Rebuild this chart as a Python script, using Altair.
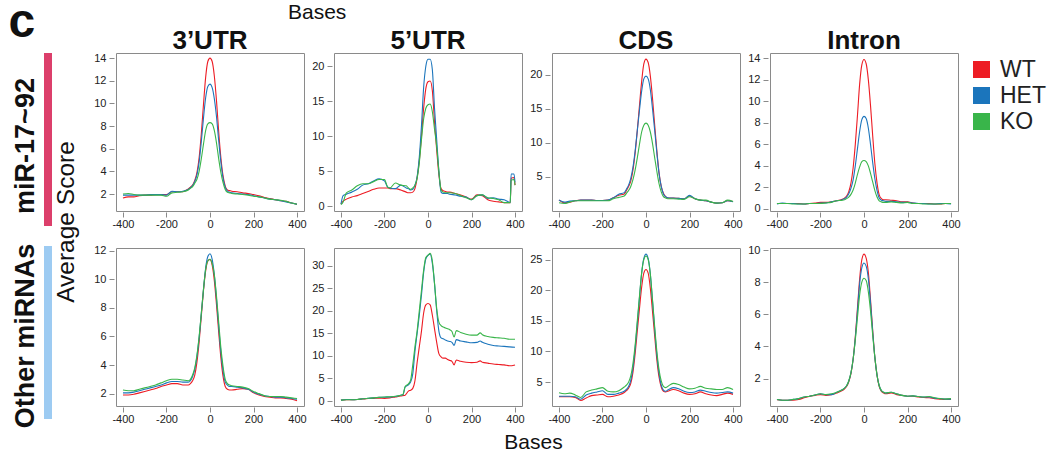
import altair as alt
import pandas as pd

FONT = "Liberation Sans"

SERIES = ["WT", "HET", "KO"]
COLORS = ["#ED1C24", "#1B75BC", "#39B54A"]
REGIONS = ["3\u2019UTR", "5\u2019UTR", "CDS", "Intron"]
GROUPS = ["miR-17~92", "Other miRNAs"]
X_TICKS = [-400, -200, 0, 200, 400]

POS = [-400, -375, -350, -325, -300, -275, -250, -225, -200, -175, -150, -125,
       -100, -90, -80, -70, -60, -50, -40, -30, -20, -10, 0, 10, 20, 30, 40, 50,
       60, 70, 80, 90, 100, 125, 150, 175, 200, 225, 250, 275, 300, 325, 350, 375, 400]
POS_5UTR_MIR = [-400, -390, -375, -350, -325, -300, -275, -250, -225, -200, -185, -175,
                -150, -125, -100, -90, -80, -70, -60, -50, -40, -30, -20, -10, 0, 10,
                20, 30, 40, 50, 60, 70, 80, 90, 100, 125, 150, 175, 200, 225, 250, 275,
                300, 325, 350, 370, 378, 382, 395, 400]
POS_5UTR_OTHER = [-400, -375, -350, -325, -300, -275, -250, -225, -200, -175, -150, -125,
                  -115, -105, -90, -80, -70, -60, -50, -40, -30, -20, -10, 0, 10, 20, 30,
                  40, 50, 60, 70, 80, 90, 100, 110, 120, 130, 150, 175, 200, 225, 240, 250,
                  275, 300, 325, 350, 375, 400]

# ---- miR-17~92 row ----
UTR3_MIR_WT = [1.65, 1.75, 1.75, 1.85, 1.9, 1.9, 1.95, 1.95, 1.95, 2.2, 2.2, 2.2, 2.45, 2.6, 2.8, 3.2, 3.9, 5.2, 7.3, 9.9, 12.3, 13.7, 14.0, 13.7, 12.4, 10.2, 7.5, 5.2, 3.6, 2.7, 2.35, 2.3, 2.25, 2.2, 2.1, 2.05, 1.95, 1.85, 1.7, 1.6, 1.5, 1.4, 1.35, 1.2, 1.1]
UTR3_MIR_HET = [1.9, 1.9, 1.9, 1.9, 1.9, 1.95, 1.95, 1.95, 1.9, 2.25, 2.2, 2.25, 2.4, 2.55, 2.75, 3.1, 3.7, 4.8, 6.6, 8.7, 10.5, 11.5, 11.7, 11.4, 10.4, 8.8, 6.7, 4.8, 3.4, 2.6, 2.25, 2.15, 2.1, 2.05, 2.0, 1.95, 1.85, 1.75, 1.65, 1.55, 1.5, 1.4, 1.3, 1.2, 1.1]
UTR3_MIR_KO = [2.0, 2.05, 1.95, 1.9, 1.9, 1.9, 1.9, 1.9, 1.8, 2.1, 2.15, 2.2, 2.35, 2.5, 2.65, 2.95, 3.3, 4.0, 5.1, 6.4, 7.6, 8.2, 8.3, 8.2, 7.6, 6.5, 5.1, 3.9, 3.0, 2.4, 2.15, 2.1, 2.05, 2.0, 1.95, 1.9, 1.8, 1.75, 1.65, 1.55, 1.5, 1.45, 1.35, 1.2, 1.1]

UTR5_MIR_WT = [0.3, 0.7, 1.0, 1.3, 1.5, 1.8, 2.1, 2.4, 2.6, 2.6, 2.6, 2.5, 2.5, 2.3, 2.0, 1.9, 1.9, 2.0, 2.5, 4.0, 6.5, 10.0, 14.0, 16.8, 17.8, 17.9, 16.5, 12.0, 8.0, 4.5, 2.5, 2.2, 2.1, 2.0, 2.0, 1.8, 1.6, 1.3, 1.0, 1.6, 1.5, 0.9, 0.7, 0.6, 0.5, 0.5, 0.5, 4.0, 4.1, 3.0]
UTR5_MIR_HET = [0.3, 1.5, 1.7, 2.0, 2.4, 3.0, 3.2, 3.6, 3.9, 3.6, 2.7, 2.6, 2.5, 3.0, 2.6, 2.5, 2.3, 2.4, 3.0, 4.2, 7.0, 11.5, 17.0, 20.0, 21.0, 21.0, 19.5, 14.0, 9.5, 5.0, 2.0, 1.8, 1.8, 1.8, 1.7, 1.6, 1.4, 1.3, 0.9, 1.5, 1.6, 1.1, 1.2, 1.0, 0.9, 0.6, 0.5, 4.6, 4.6, 3.4]
UTR5_MIR_KO = [0.2, 0.6, 1.9, 2.3, 2.9, 3.2, 3.2, 3.5, 3.8, 3.8, 2.7, 2.6, 3.3, 3.0, 2.9, 2.6, 2.4, 2.6, 3.0, 4.0, 6.2, 9.5, 12.5, 14.0, 14.5, 14.6, 13.5, 11.0, 8.5, 5.0, 2.3, 2.0, 1.9, 1.9, 1.9, 1.8, 1.5, 1.2, 0.9, 1.5, 1.6, 1.2, 1.1, 0.9, 0.5, 0.5, 0.5, 3.7, 3.8, 3.0]

CDS_MIR_WT = [1.6, 1.2, 1.3, 1.5, 1.6, 1.6, 1.6, 1.55, 1.55, 1.6, 1.95, 2.3, 2.5, 3.0, 3.6, 4.4, 6.0, 8.5, 11.8, 15.5, 19.0, 21.6, 22.3, 21.8, 19.8, 16.5, 12.6, 8.8, 5.6, 3.6, 2.6, 2.1, 1.9, 1.9, 1.85, 1.8, 2.2, 1.8, 1.6, 1.5, 1.3, 1.15, 1.2, 1.5, 1.4]
CDS_MIR_HET = [1.6, 1.3, 1.45, 1.5, 1.6, 1.6, 1.6, 1.55, 1.55, 1.6, 1.95, 2.45, 2.7, 3.2, 3.8, 4.8, 6.4, 8.8, 11.8, 14.8, 17.6, 19.4, 19.8, 19.4, 17.8, 15.0, 11.8, 8.5, 5.5, 3.6, 2.5, 2.1, 1.95, 1.9, 1.85, 1.8, 2.3, 1.8, 1.6, 1.5, 1.3, 1.15, 1.2, 1.5, 1.35]
CDS_MIR_KO = [1.2, 1.1, 1.3, 1.5, 1.5, 1.5, 1.5, 1.5, 1.5, 1.5, 1.8, 2.0, 2.2, 2.6, 3.0, 3.6, 4.6, 6.0, 7.8, 9.8, 11.6, 12.6, 12.9, 12.6, 11.6, 9.9, 7.8, 5.8, 4.0, 2.8, 2.1, 1.9, 1.8, 1.8, 1.75, 1.7, 2.1, 1.8, 1.6, 1.6, 1.3, 1.15, 1.2, 1.6, 1.4]

INTRON_MIR_WT = [0.5, 0.5, 0.5, 0.5, 0.5, 0.45, 0.5, 0.55, 0.6, 0.6, 0.65, 0.75, 0.9, 1.0, 1.2, 1.6, 2.4, 3.8, 6.0, 8.7, 11.6, 13.4, 13.9, 13.5, 12.0, 9.6, 6.8, 4.2, 2.4, 1.3, 0.95, 0.85, 0.85, 0.8, 0.75, 0.65, 0.65, 0.55, 0.5, 0.5, 0.5, 0.45, 0.45, 0.5, 0.5]
INTRON_MIR_HET = [0.45, 0.55, 0.5, 0.5, 0.45, 0.45, 0.5, 0.5, 0.55, 0.55, 0.65, 0.75, 0.85, 0.95, 1.1, 1.4, 1.9, 2.7, 4.0, 5.6, 7.2, 8.3, 8.6, 8.4, 7.5, 6.0, 4.3, 2.8, 1.7, 1.0, 0.8, 0.75, 0.7, 0.7, 0.65, 0.6, 0.6, 0.55, 0.5, 0.5, 0.45, 0.45, 0.5, 0.5, 0.45]
INTRON_MIR_KO = [0.5, 0.5, 0.5, 0.45, 0.45, 0.45, 0.5, 0.5, 0.5, 0.55, 0.6, 0.75, 0.8, 0.85, 0.95, 1.1, 1.35, 1.75, 2.4, 3.2, 3.9, 4.4, 4.5, 4.4, 4.0, 3.3, 2.5, 1.7, 1.1, 0.75, 0.65, 0.6, 0.6, 0.65, 0.6, 0.55, 0.6, 0.5, 0.5, 0.45, 0.45, 0.45, 0.45, 0.5, 0.5]

# ---- Other miRNAs row ----
UTR3_OTHER_WT = [1.9, 1.9, 1.95, 2.05, 2.15, 2.25, 2.35, 2.5, 2.6, 2.7, 2.7, 2.6, 2.6, 2.7, 2.9, 3.3, 4.2, 5.6, 7.4, 9.2, 10.6, 11.3, 11.4, 11.0, 9.9, 8.2, 6.3, 4.5, 3.2, 2.5, 2.3, 2.25, 2.25, 2.3, 2.35, 2.3, 2.05, 1.9, 1.8, 1.75, 1.7, 1.7, 1.65, 1.6, 1.5]
UTR3_OTHER_HET = [2.05, 2.05, 2.1, 2.2, 2.3, 2.4, 2.5, 2.6, 2.75, 2.85, 2.85, 2.8, 2.8, 2.9, 3.2, 3.7, 4.6, 5.9, 7.6, 9.3, 10.8, 11.6, 11.8, 11.4, 10.3, 8.6, 6.7, 4.9, 3.6, 2.8, 2.6, 2.5, 2.5, 2.45, 2.4, 2.3, 2.1, 1.95, 1.85, 1.8, 1.75, 1.75, 1.7, 1.65, 1.6]
UTR3_OTHER_KO = [2.25, 2.2, 2.2, 2.3, 2.4, 2.5, 2.6, 2.75, 2.9, 3.0, 3.0, 2.95, 2.9, 3.0, 3.3, 3.8, 4.7, 6.0, 7.6, 9.3, 10.7, 11.3, 11.4, 11.1, 10.3, 8.8, 7.0, 5.2, 3.9, 3.0, 2.7, 2.6, 2.55, 2.5, 2.45, 2.35, 2.15, 2.0, 1.85, 1.8, 1.8, 1.8, 1.75, 1.7, 1.65]

UTR5_OTHER_WT = [0.2, 0.3, 0.3, 0.35, 0.45, 0.55, 0.6, 0.65, 0.6, 0.7, 0.9, 1.1, 1.2, 1.3, 2.2, 2.4, 2.8, 4.5, 8.5, 12.0, 15.5, 19.5, 21.3, 21.6, 21.3, 19.0, 16.0, 13.0, 10.5, 9.8, 9.5, 9.5, 9.2, 9.0, 8.8, 8.0, 9.1, 8.8, 8.6, 8.5, 8.6, 8.9, 8.6, 8.4, 8.2, 8.1, 8.0, 7.8, 8.0]
UTR5_OTHER_HET = [0.2, 0.35, 0.3, 0.35, 0.5, 0.6, 0.7, 0.8, 0.85, 0.9, 1.0, 1.3, 1.4, 3.1, 3.6, 4.2, 6.0, 11.0, 15.0, 19.0, 23.5, 28.5, 31.5, 32.3, 32.5, 30.5, 26.0, 20.0, 15.5, 14.0, 13.8, 13.5, 13.3, 13.2, 13.0, 12.3, 13.6, 13.3, 13.1, 12.9, 13.0, 13.3, 13.0, 12.6, 12.3, 12.2, 12.1, 12.0, 11.9]
UTR5_OTHER_KO = [0.2, 0.3, 0.3, 0.35, 0.5, 0.6, 0.7, 0.8, 0.9, 0.95, 1.05, 1.3, 1.45, 3.2, 3.8, 4.6, 8.0, 12.0, 15.5, 20.0, 24.5, 29.0, 31.8, 32.3, 32.7, 31.0, 26.0, 20.5, 17.5, 16.7, 16.4, 16.2, 16.0, 15.8, 15.4, 14.2, 15.6, 15.2, 14.8, 14.6, 14.6, 15.1, 14.7, 14.3, 14.1, 14.0, 13.9, 13.7, 13.7]

CDS_OTHER_WT = [2.6, 2.6, 2.6, 2.5, 2.0, 2.4, 2.8, 2.9, 3.0, 2.6, 2.7, 2.9, 3.3, 3.6, 4.0, 4.8, 6.6, 9.6, 13.3, 17.0, 20.5, 22.8, 23.4, 22.8, 20.3, 16.5, 12.5, 8.6, 5.8, 4.2, 3.5, 3.4, 3.5, 3.8, 3.6, 3.2, 3.0, 3.1, 3.4, 3.1, 2.9, 2.8, 3.0, 3.2, 3.0]
CDS_OTHER_HET = [2.7, 2.7, 2.7, 2.6, 2.2, 2.9, 3.2, 3.4, 3.6, 3.0, 3.0, 3.2, 3.5, 3.8, 4.3, 5.3, 7.3, 10.5, 14.5, 18.8, 22.8, 25.2, 25.9, 25.2, 22.6, 18.2, 13.6, 9.4, 6.4, 4.5, 3.7, 3.5, 3.7, 4.1, 3.9, 3.5, 3.3, 3.4, 3.7, 3.5, 3.3, 3.2, 3.3, 3.4, 3.2]
CDS_OTHER_KO = [3.25, 3.1, 3.2, 2.9, 2.5, 3.4, 3.7, 3.9, 4.1, 3.5, 3.4, 3.6, 4.2, 4.5, 5.0, 6.0, 8.0, 11.0, 15.0, 19.0, 22.8, 25.0, 25.6, 25.0, 22.6, 18.4, 14.0, 10.0, 7.0, 5.2, 4.3, 4.1, 4.3, 4.8, 4.6, 4.2, 3.9, 4.0, 4.3, 4.0, 3.9, 3.8, 3.8, 4.1, 3.8]

INTRON_OTHER_WT = [0.68, 0.65, 0.65, 0.65, 0.7, 0.8, 0.9, 0.95, 1.0, 0.95, 1.0, 1.1, 1.25, 1.35, 1.5, 1.8, 2.3, 3.2, 4.6, 6.4, 8.2, 9.4, 9.75, 9.5, 8.6, 6.9, 5.0, 3.3, 2.2, 1.5, 1.2, 1.1, 1.05, 1.1, 1.0, 0.95, 0.9, 0.9, 0.85, 0.82, 0.8, 0.75, 0.72, 0.7, 0.7]
INTRON_OTHER_HET = [0.7, 0.65, 0.65, 0.7, 0.75, 0.85, 0.9, 0.97, 1.05, 1.0, 1.0, 1.15, 1.3, 1.4, 1.55, 1.85, 2.35, 3.2, 4.5, 6.2, 7.9, 8.9, 9.2, 9.0, 8.2, 6.7, 4.9, 3.3, 2.2, 1.55, 1.25, 1.15, 1.1, 1.15, 1.05, 0.95, 0.9, 0.92, 0.88, 0.85, 0.85, 0.78, 0.75, 0.72, 0.72]
INTRON_OTHER_KO = [0.7, 0.65, 0.65, 0.7, 0.75, 0.85, 0.9, 0.97, 1.05, 1.0, 1.05, 1.15, 1.3, 1.4, 1.55, 1.85, 2.35, 3.2, 4.4, 5.8, 7.2, 8.0, 8.25, 8.1, 7.4, 6.2, 4.7, 3.3, 2.2, 1.55, 1.25, 1.15, 1.1, 1.15, 1.05, 0.95, 0.9, 0.92, 0.88, 0.85, 0.88, 0.8, 0.75, 0.72, 0.75]

# y-axis domains and tick values per panel (row, column)
Y_DOMAINS = [[[0.5, 14.45], [-0.7, 21.9], [0.0, 23.2], [-0.2, 14.5]],
             [[1.13, 12.2], [-1.1, 33.9], [1.1, 26.9], [0.29, 10.13]]]
Y_TICKS = [[[2, 4, 6, 8, 10, 12, 14], [0, 5, 10, 15, 20], [5, 10, 15, 20], [0, 2, 4, 6, 8, 10, 12, 14]],
           [[2, 4, 6, 8, 10, 12], [0, 5, 10, 15, 20, 25, 30], [5, 10, 15, 20, 25], [2, 4, 6, 8, 10]]]

PANEL_DATA = [
    [(POS, [UTR3_MIR_WT, UTR3_MIR_HET, UTR3_MIR_KO]),
     (POS_5UTR_MIR, [UTR5_MIR_WT, UTR5_MIR_HET, UTR5_MIR_KO]),
     (POS, [CDS_MIR_WT, CDS_MIR_HET, CDS_MIR_KO]),
     (POS, [INTRON_MIR_WT, INTRON_MIR_HET, INTRON_MIR_KO])],
    [(POS, [UTR3_OTHER_WT, UTR3_OTHER_HET, UTR3_OTHER_KO]),
     (POS_5UTR_OTHER, [UTR5_OTHER_WT, UTR5_OTHER_HET, UTR5_OTHER_KO]),
     (POS, [CDS_OTHER_WT, CDS_OTHER_HET, CDS_OTHER_KO]),
     (POS, [INTRON_OTHER_WT, INTRON_OTHER_HET, INTRON_OTHER_KO])],
]

W, H = 188, 158
ONE = pd.DataFrame({"k": [0]})
COLOR_SCALE = alt.Scale(domain=SERIES, range=COLORS)


def text_layer(txt, x, y, size, weight="normal", angle=0, align="center"):
    return alt.Chart(ONE).mark_text(
        text=txt, font=FONT, fontSize=size, fontWeight=weight, angle=angle,
        align=align, baseline="alphabetic", color="#111111"
    ).encode(x=alt.value(x), y=alt.value(y))


def bar_layer(color, y0, y1):
    return alt.Chart(ONE).mark_rect(color=color).encode(
        x=alt.value(-72), x2=alt.value(-64), y=alt.value(y0), y2=alt.value(y1))


def legend_layers():
    ldf = pd.DataFrame({"series": SERIES})
    ly = alt.Y("series:N", sort=SERIES, axis=None,
               scale=alt.Scale(type="point", domain=SERIES, range=[16.5, 68.5], padding=0))
    squares = alt.Chart(ldf).mark_square(size=289, opacity=1).encode(
        x=alt.value(211.5), y=ly,
        color=alt.Color("series:N", scale=COLOR_SCALE, sort=SERIES, legend=None))
    labels = alt.Chart(ldf).mark_text(
        align="left", baseline="middle", font=FONT, fontSize=23, color="#222222"
    ).encode(x=alt.value(230), y=ly, text="series:N")
    return [squares, labels]


def panel(r, c):
    pos, vals = PANEL_DATA[r][c]
    rows = []
    for s, arr in zip(SERIES, vals):
        if len(arr) != len(pos):
            raise ValueError(f"length mismatch in panel {r},{c} series {s}: {len(arr)} vs {len(pos)}")
        for p, v in zip(pos, arr):
            rows.append({"pos": p, "val": v, "series": s, "ord": SERIES.index(s)})
    df = pd.DataFrame(rows)
    lines = alt.Chart(df).mark_line(strokeWidth=1.1, interpolate="monotone", clip=True).encode(
        x=alt.X("pos:Q", title=None,
                scale=alt.Scale(domain=[-432, 432], nice=False, zero=False),
                axis=alt.Axis(values=X_TICKS, labelExpr="'' + datum.value")),
        y=alt.Y("val:Q", title=None,
                scale=alt.Scale(domain=Y_DOMAINS[r][c], nice=False, zero=False),
                axis=alt.Axis(values=Y_TICKS[r][c], labelExpr="'' + datum.value")),
        color=alt.Color("series:N", scale=COLOR_SCALE, sort=SERIES, legend=None),
        order=alt.Order("ord:Q"),
        detail="series:N",
    )
    layers = [lines]
    if r == 0:
        layers.append(text_layer(REGIONS[c], W / 2, -4, 26, "bold"))
    if r == 0 and c == 0:
        # invisible anchor fixing the top-left corner of the drawing
        layers.append(alt.Chart(ONE).mark_rule(color="white", strokeWidth=0.01).encode(
            x=alt.value(-114.9), x2=alt.value(-114.8), y=alt.value(-69.9), y2=alt.value(-69.9)))
        layers.append(text_layer("c", -107.5, -16, 48, "bold", align="left"))
        layers.append(text_layer("Bases", 172, -34, 21, align="left"))
        layers.append(bar_layer("#DC3F6B", 0, 173))
        layers.append(text_layer(GROUPS[0], -82, 93, 27, "bold", angle=270))
        layers.append(text_layer("Average Score", -42.5, 169, 24.5, angle=270))
    if r == 1 and c == 0:
        layers.append(bar_layer("#9DCBF2", -2, 171))
        layers.append(text_layer(GROUPS[1], -82, 88, 27, "bold", angle=270))
    if r == 1 and c == 1:
        layers.append(text_layer("Bases", 199.5, 200.5, 21))
    if r == 0 and c == 3:
        ch = alt.layer(alt.layer(*layers), *legend_layers()).resolve_scale(y="independent")
        return ch.properties(width=W, height=H)
    return alt.layer(*layers).properties(width=W, height=H)


charts = [panel(r, c) for r in range(2) for c in range(4)]

chart = alt.concat(*charts, columns=4, spacing={"row": 37, "column": 30}).properties(
    bounds="flush", padding={"left": 0, "top": -18, "right": 0, "bottom": 0}
).configure_view(
    stroke="#8a8a8a", strokeWidth=1
).configure_axis(
    domain=False, grid=False, tickColor="#8a8a8a", tickSize=5, tickWidth=1,
    labelFont=FONT, labelFontSize=11, labelColor="#222222"
).configure_axisX(
    offset=1, labelPadding=1
).configure_axisY(
    offset=2, labelPadding=3
)

chart.save("out.html", embed_options={"renderer": "svg", "actions": False})
